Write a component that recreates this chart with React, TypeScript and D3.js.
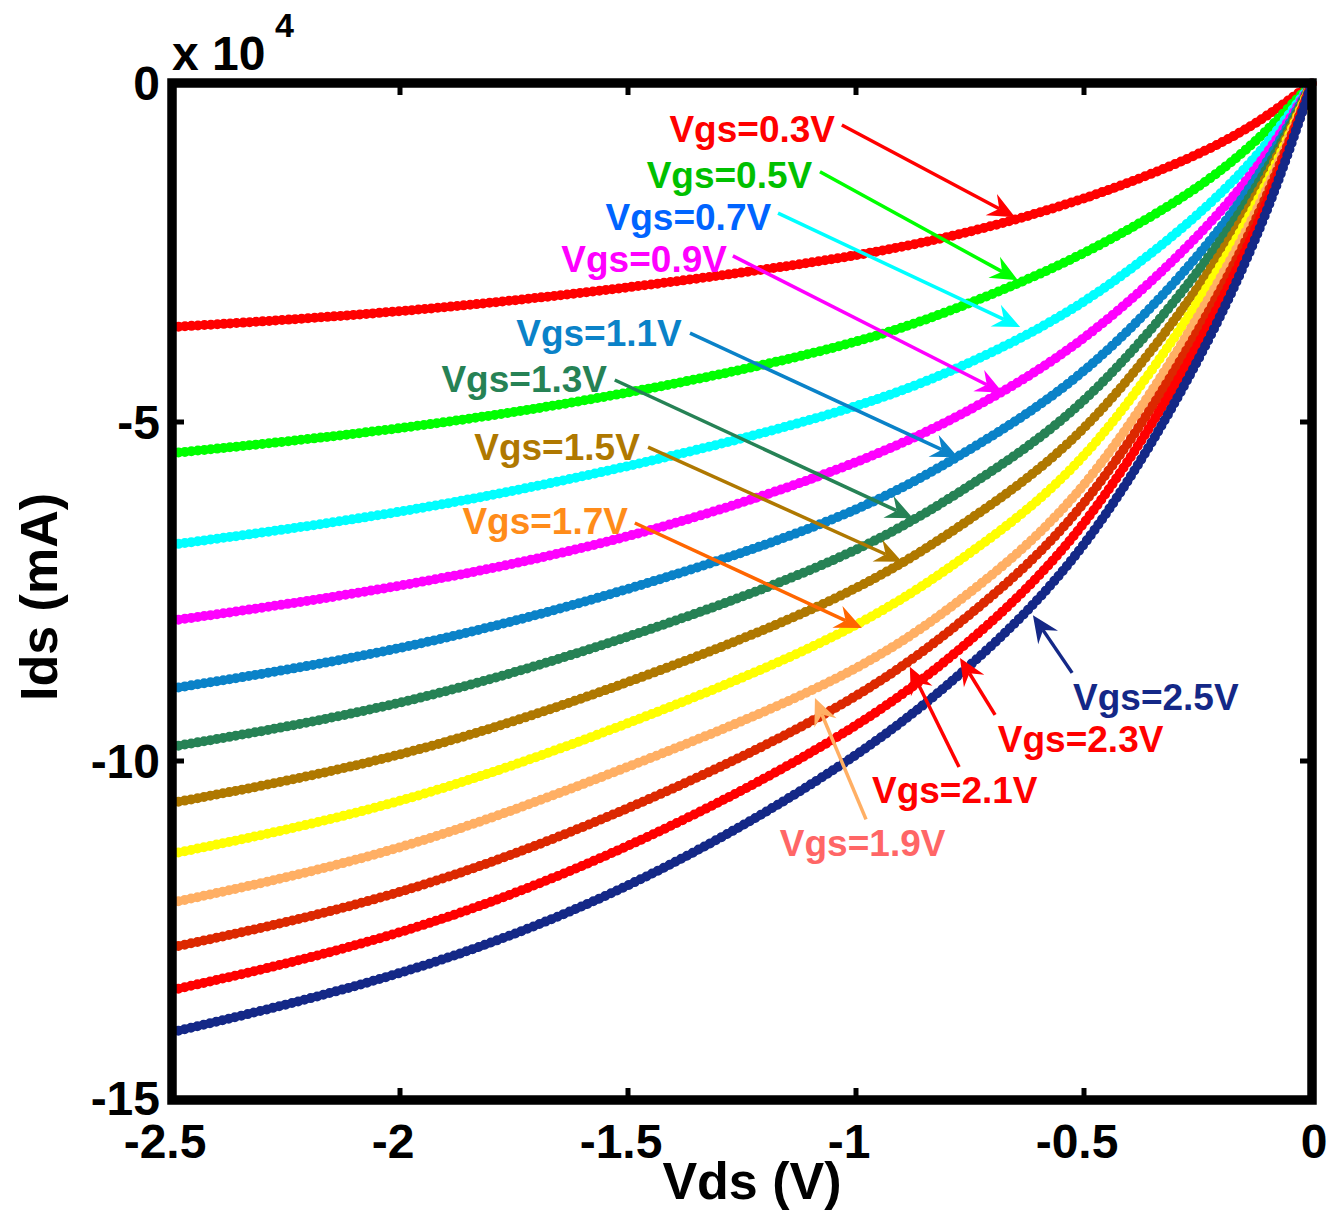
import React from 'react';
import * as d3 from 'd3';

// ---------- data (Ids in units of 1e4 mA) ----------
const VDS = [-2.5, -2, -1.5, -1, -0.75, -0.5, -0.25, -0.125, -0.0625, 0];
const IDS_VGS_03 = [-3.6, -3.39, -3.03, -2.57, -2.21, -1.73, -1.08, -0.61, -0.31, 0];
const IDS_VGS_05 = [-5.46, -5.12, -4.6, -3.87, -3.26, -2.55, -1.58, -0.88, -0.45, 0];
const IDS_VGS_07 = [-6.81, -6.36, -5.68, -4.82, -4.15, -3.3, -1.98, -1.12, -0.58, 0];
const IDS_VGS_09 = [-7.93, -7.45, -6.75, -5.65, -4.85, -3.85, -2.3, -1.3, -0.68, 0];
const IDS_VGS_11 = [-8.93, -8.39, -7.5, -6.38, -5.42, -4.36, -2.6, -1.46, -0.76, 0];
const IDS_VGS_13 = [-9.79, -9.21, -8.2, -6.98, -5.95, -4.82, -2.83, -1.59, -0.83, 0];
const IDS_VGS_15 = [-10.62, -9.98, -8.87, -7.55, -6.45, -5.25, -3.07, -1.72, -0.9, 0];
const IDS_VGS_17 = [-11.37, -10.67, -9.47, -8.1, -6.95, -5.68, -3.28, -1.84, -0.96, 0];
const IDS_VGS_19 = [-12.09, -11.36, -10.1, -8.75, -7.55, -6.12, -3.5, -1.96, -1.02, 0];
const IDS_VGS_21 = [-12.75, -12.02, -10.75, -9.15, -7.87, -6.39, -3.72, -2.08, -1.08, 0];
const IDS_VGS_23 = [-13.38, -12.61, -11.33, -9.57, -8.27, -6.68, -3.94, -2.2, -1.15, 0];
const IDS_VGS_25 = [-14.0, -13.2, -11.95, -10.0, -8.63, -7.0, -4.18, -2.35, -1.25, 0];

const SERIES_VALUES = [
  IDS_VGS_03, IDS_VGS_05, IDS_VGS_07, IDS_VGS_09, IDS_VGS_11, IDS_VGS_13,
  IDS_VGS_15, IDS_VGS_17, IDS_VGS_19, IDS_VGS_21, IDS_VGS_23, IDS_VGS_25,
];
const VGS_LABELS = ['Vgs=0.3V', 'Vgs=0.5V', 'Vgs=0.7V', 'Vgs=0.9V', 'Vgs=1.1V', 'Vgs=1.3V',
  'Vgs=1.5V', 'Vgs=1.7V', 'Vgs=1.9V', 'Vgs=2.1V', 'Vgs=2.3V', 'Vgs=2.5V'];

const X_TICKS = [-2.5, -2, -1.5, -1, -0.5, 0];
const X_TICK_LABELS = ['-2.5', '-2', '-1.5', '-1', '-0.5', '0'];
const Y_TICKS = [0, -5, -10, -15];
const Y_TICK_LABELS = ['0', '-5', '-10', '-15'];

// ---------- styles ----------
const CURVE_COLORS = ['#FF0000', '#00FF00', '#00FFFF', '#FF00FF', '#0A82C8', '#268255',
  '#AF7800', '#FFFF00', '#FFAF64', '#DC2800', '#FF0000', '#142887'];
const LABEL_COLORS = ['#FF0000', '#00C000', '#0064FF', '#FF00FF', '#0A82C8', '#268255',
  '#AF7800', '#FF8C1A', '#FF6666', '#FF0000', '#FF0000', '#142887'];
const ARROW_COLORS = ['#FF0000', '#00FF00', '#00FFFF', '#FF00FF', '#0A82C8', '#268255',
  '#AF7800', '#FF6600', '#FFAF64', '#FF0000', '#FF0000', '#142887'];

// annotation layout in data coordinates: label anchor, arrow start, arrow tip
const ANNOT_LAYOUT = [
  { anchor: 'end', lx: -1.046, ly: -0.69, fx: -1.031, fy: -0.62, tx: -0.651, ty: -1.98 },
  { anchor: 'end', lx: -1.096, ly: -1.36, fx: -1.079, fy: -1.31, tx: -0.645, ty: -2.91 },
  { anchor: 'end', lx: -1.186, ly: -1.99, fx: -1.171, fy: -1.92, tx: -0.640, ty: -3.60 },
  { anchor: 'end', lx: -1.283, ly: -2.61, fx: -1.270, fy: -2.55, tx: -0.678, ty: -4.57 },
  { anchor: 'end', lx: -1.382, ly: -3.69, fx: -1.364, fy: -3.69, tx: -0.776, ty: -5.52 },
  { anchor: 'end', lx: -1.546, ly: -4.38, fx: -1.529, fy: -4.38, tx: -0.875, ty: -6.42 },
  { anchor: 'end', lx: -1.474, ly: -5.38, fx: -1.456, fy: -5.37, tx: -0.899, ty: -7.06 },
  { anchor: 'end', lx: -1.500, ly: -6.47, fx: -1.485, fy: -6.49, tx: -0.987, ty: -8.04 },
  { anchor: 'start', lx: -1.167, ly: -11.21, fx: -0.978, fy: -10.86, tx: -1.090, ty: -9.07 },
  { anchor: 'start', lx: -0.965, ly: -10.43, fx: -0.774, fy: -10.09, tx: -0.882, ty: -8.61 },
  { anchor: 'start', lx: -0.689, ly: -9.69, fx: -0.695, fy: -9.32, tx: -0.772, ty: -8.48 },
  { anchor: 'start', lx: -0.524, ly: -9.06, fx: -0.526, fy: -8.70, tx: -0.612, ty: -7.85 },
];

const FONT = '"Liberation Sans", Arial, Helvetica, sans-serif';
const W = 1330;
const H = 1212;
const PLOT = { left: 172, right: 1312, top: 83, bottom: 1100 };

function Arrow({ x1, y1, x2, y2, color }: any) {
  const dx = x2 - x1;
  const dy = y2 - y1;
  const len = Math.hypot(dx, dy);
  const ux = dx / len;
  const uy = dy / len;
  const nx = -uy;
  const ny = ux;
  const L = 27;
  const hw = 12;
  const notch = 18;
  const bx = x2 - L * ux;
  const by = y2 - L * uy;
  const pts = [
    [x2, y2],
    [bx + hw * nx, by + hw * ny],
    [x2 - notch * ux, y2 - notch * uy],
    [bx - hw * nx, by - hw * ny],
  ];
  return (
    <g>
      <line x1={x1} y1={y1} x2={x2 - notch * ux} y2={y2 - notch * uy} stroke={color} strokeWidth={3.5} />
      <polygon points={pts.map((p) => p.join(',')).join(' ')} fill={color} />
    </g>
  );
}

export default function App() {
  const x = d3.scaleLinear().domain([-2.5, 0]).range([PLOT.left, PLOT.right]);
  const y = d3.scaleLinear().domain([-15, 0]).range([PLOT.bottom, PLOT.top]);
  const line = d3
    .line<[number, number]>()
    .x((d) => x(d[0]))
    .y((d) => y(d[1]))
    .curve(d3.curveBasis);

  const innerXTicks = X_TICKS.filter((t) => t > -2.5 && t < 0);
  const innerYTicks = Y_TICKS.filter((t) => t > -15 && t < 0);
  const tickLen = 12;

  return (
    <svg width={W} height={H} style={{ position: 'absolute', left: 0, top: 0, background: '#fff' }}
      fontFamily={FONT} fontWeight="bold">
      <rect x={0} y={0} width={W} height={H} fill="#fff" />
      <defs>
        <clipPath id="plotclip">
          <rect x={PLOT.left} y={PLOT.top - 6} width={PLOT.right - PLOT.left + 6} height={PLOT.bottom - PLOT.top + 6} />
        </clipPath>
      </defs>

      {/* curves */}
      <g clipPath="url(#plotclip)">
        {SERIES_VALUES.map((vals, i) => {
          const pts = VDS.map((v, k) => [v, vals[k]] as [number, number]);
          const d = line(pts) || '';
          return (
            <g key={i}>
              <path d={d} fill="none" stroke={CURVE_COLORS[i]} strokeWidth={7.5} strokeLinecap="round" />
              <path d={d} fill="none" stroke={CURVE_COLORS[i]} strokeWidth={10} strokeLinecap="round"
                strokeDasharray="0 6.5" />
            </g>
          );
        })}
      </g>

      {/* annotations */}
      {ANNOT_LAYOUT.map((a, i) => (
        <g key={'a' + i}>
          <Arrow x1={x(a.fx)} y1={y(a.fy)} x2={x(a.tx)} y2={y(a.ty)} color={ARROW_COLORS[i]} />
          <text x={x(a.lx)} y={y(a.ly)} fill={LABEL_COLORS[i]} fontSize={37} textAnchor={a.anchor}
            dominantBaseline="central">
            {VGS_LABELS[i]}
          </text>
        </g>
      ))}

      {/* ticks */}
      {innerXTicks.map((t) => (
        <g key={'xt' + t}>
          <line x1={x(t)} x2={x(t)} y1={PLOT.bottom} y2={PLOT.bottom - tickLen} stroke="#000" strokeWidth={5} />
          <line x1={x(t)} x2={x(t)} y1={PLOT.top} y2={PLOT.top + tickLen} stroke="#000" strokeWidth={5} />
        </g>
      ))}
      {innerYTicks.map((t) => (
        <g key={'yt' + t}>
          <line x1={PLOT.left} x2={PLOT.left + tickLen} y1={y(t)} y2={y(t)} stroke="#000" strokeWidth={5} />
          <line x1={PLOT.right} x2={PLOT.right - tickLen} y1={y(t)} y2={y(t)} stroke="#000" strokeWidth={5} />
        </g>
      ))}

      {/* frame */}
      <rect x={PLOT.left} y={PLOT.top} width={PLOT.right - PLOT.left} height={PLOT.bottom - PLOT.top}
        fill="none" stroke="#000" strokeWidth={9.5} />

      {/* tick labels */}
      {X_TICKS.map((t, i) => (
        <text key={'xl' + t} x={x(t) + (t < 0 ? -7 : 2)} y={1141} fontSize={48} textAnchor="middle"
          dominantBaseline="central" fill="#000">
          {X_TICK_LABELS[i]}
        </text>
      ))}
      {Y_TICKS.map((t, i) => (
        <text key={'yl' + t} x={160} y={t === -15 ? y(t) - 2 : y(t)} fontSize={48} textAnchor="end"
          dominantBaseline="central" fill="#000">
          {Y_TICK_LABELS[i]}
        </text>
      ))}

      {/* exponent */}
      <text x={172} y={70} fontSize={48} fill="#000">x 10</text>
      <text x={275} y={37} fontSize={34} fill="#000">4</text>

      {/* axis labels */}
      <text x={752} y={1199} fontSize={52} textAnchor="middle" fill="#000">Vds (V)</text>
      <text transform={`translate(57, 597) rotate(-90)`} fontSize={52} textAnchor="middle" fill="#000">
        Ids (mA)
      </text>
    </svg>
  );
}
